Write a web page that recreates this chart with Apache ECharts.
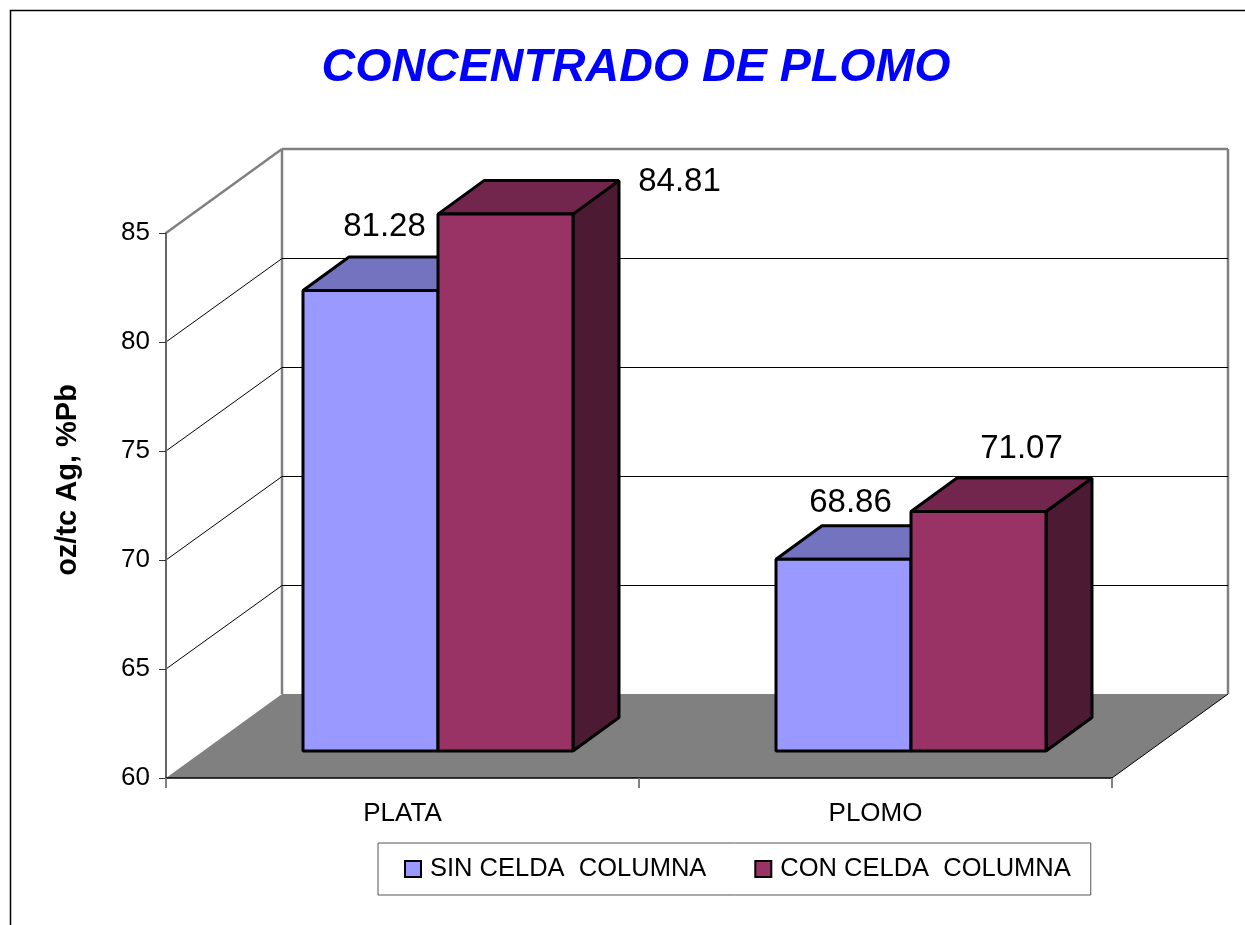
<!DOCTYPE html>
<html>
<head>
<meta charset="utf-8">
<title>CONCENTRADO DE PLOMO</title>
<script src="https://cdn.jsdelivr.net/npm/echarts@6/dist/echarts.min.js"></script>
<style>
    html, body { margin: 0; padding: 0; background: #fff; }
    #chart { width: 1245px; height: 925px; }
</style>
</head>
<body>
<div id="chart"></div>
<script>
const categories = ['PLATA', 'PLOMO']
const seriesNames = ['SIN CELDA  COLUMNA', 'CON CELDA  COLUMNA']
const sinCelda = [81.28, 68.86]
const conCelda = [84.81, 71.07]
const yTicks = [60, 65, 70, 75, 80, 85]

const FONT = '"Liberation Sans", Arial, sans-serif'
const GRAY = '#808080'

// wall depth, front plane to back wall
const WALL_DX = 116
const WALL_DY = 84
// bar depth and width
const BAR_DX = 46
const BAR_DY = 33.5
const BAR_W = 135

// the data labels were moved by hand in the original, offset from bar top centre
const labelOffset = [
    [[14, -64], [7, -56]],
    [[174, -32], [43, -63]]
]

const poly = (points, fill, stroke, width) => ({
    type: 'polygon',
    shape: { points },
    style: { fill, stroke, lineWidth: width || 0, lineJoin: 'bevel' }
})
const seg = (x1, y1, x2, y2, stroke, width) => ({
    type: 'line',
    shape: { x1, y1, x2, y2 },
    style: { stroke, lineWidth: width }
})

// floor and the gray outline of the walls
const renderWalls = (params, api) => {
    const half = api.size([1, 0])[0] / 2
    const lo = api.coord([0, yTicks[0]])
    const hi = api.coord([0, yTicks[yTicks.length - 1]])
    const x0 = lo[0] - half
    const x1 = api.coord([categories.length - 1, yTicks[0]])[0] + half
    const y0 = lo[1]
    const y1 = hi[1]
    return {
        type: 'group',
        children: [
            poly([[x0, y0], [x0 + WALL_DX, y0 - WALL_DY], [x1 + WALL_DX, y0 - WALL_DY], [x1, y0]], GRAY),
            seg(x1, y0, x1 + WALL_DX, y0 - WALL_DY, '#000', 1),
            seg(x0, y1, x0 + WALL_DX, y1 - WALL_DY, GRAY, 2.5),
            seg(x0 + WALL_DX, y1 - WALL_DY, x1 + WALL_DX, y1 - WALL_DY, GRAY, 2.5),
            seg(x0 + WALL_DX, y1 - WALL_DY, x0 + WALL_DX, y0 - WALL_DY, GRAY, 2.5),
            seg(x1 + WALL_DX, y1 - WALL_DY, x1 + WALL_DX, y0 - WALL_DY, GRAY, 2.5)
        ]
    }
}

// gridlines running over the side wall and the back wall
const renderGridLine = (params, api) => {
    const half = api.size([1, 0])[0] / 2
    const p = api.coord([0, api.value(1)])
    const x0 = p[0] - half
    const x1 = api.coord([categories.length - 1, api.value(1)])[0] + half
    const y = Math.round(p[1] - WALL_DY) + 0.5
    return {
        type: 'group',
        children: [
            seg(x0, p[1], x0 + WALL_DX, y, '#000', 1),
            seg(x0 + WALL_DX, y, x1 + WALL_DX, y, '#000', 1)
        ]
    }
}

const makeBarRender = (side, colors) => (params, api) => {
    const i = api.value(0)
    const v = api.value(1)
    const c = api.coord([i, v])
    const base = api.coord([i, yTicks[0]])[1]
    const left = side === 0 ? c[0] - BAR_W : c[0]
    const right = left + BAR_W
    const top = c[1]
    const off = labelOffset[side][i]
    return {
        type: 'group',
        children: [
            poly([[right, top], [right + BAR_DX, top - BAR_DY], [right + BAR_DX, base - BAR_DY], [right, base]], colors[2], '#000', 3),
            poly([[left, top], [left + BAR_DX, top - BAR_DY], [right + BAR_DX, top - BAR_DY], [right, top]], colors[1], '#000', 3),
            poly([[left, top], [right, top], [right, base], [left, base]], colors[0], '#000', 3),
            {
                type: 'text',
                x: (left + right) / 2 + off[0],
                y: top + off[1],
                style: {
                    text: v.toFixed(2),
                    fill: '#000',
                    font: '33px ' + FONT,
                    align: 'center',
                    verticalAlign: 'middle'
                }
            }
        ]
    }
}

const chart = echarts.init(document.getElementById('chart'), null, { renderer: 'canvas' })

chart.setOption({
    animation: false,
    backgroundColor: '#fff',
    title: {
        text: 'CONCENTRADO DE PLOMO',
        left: 631,
        top: 40,
        textAlign: 'center',
        textStyle: { color: '#0000ff', fontFamily: FONT, fontSize: 46.6, fontWeight: 'bold', fontStyle: 'italic' }
    },
    legend: {
        data: [
            { name: seriesNames[0], icon: 'rect', itemStyle: { color: '#9999ff', borderColor: '#000', borderWidth: 2 } },
            { name: seriesNames[1], icon: 'rect', itemStyle: { color: '#993366', borderColor: '#000', borderWidth: 2 } }
        ],
        left: 378,
        top: 843,
        padding: [13, 20, 13, 26],
        itemWidth: 16,
        itemHeight: 16,
        itemGap: 48,
        borderColor: '#555',
        borderWidth: 1,
        borderRadius: 0,
        selectedMode: false,
        textStyle: { color: '#000', fontFamily: FONT, fontSize: 25.5, padding: [0, 0, 0, 4] }
    },
    grid: [
        // front plane, carries the axes
        { left: 166, top: 233, width: 946, height: 545 },
        // plane the bars stand on, further back on the floor
        { left: 201.5, top: 210, width: 946, height: 541 }
    ],
    xAxis: [
        {
            type: 'category',
            gridIndex: 0,
            data: categories,
            z: 5,
            axisLine: { show: true, lineStyle: { color: '#000', width: 1.5 } },
            axisTick: { show: true, alignWithLabel: false, length: 10, lineStyle: { color: GRAY, width: 2 } },
            axisLabel: { color: '#000', fontFamily: FONT, fontSize: 26, margin: 23 }
        },
        { type: 'category', gridIndex: 1, data: categories, show: false }
    ],
    yAxis: [
        {
            type: 'value',
            gridIndex: 0,
            min: 60,
            max: 85,
            interval: 5,
            z: 5,
            splitLine: { show: false },
            axisLine: { show: true, lineStyle: { color: '#666', width: 2 } },
            axisTick: { show: true, length: 7, lineStyle: { color: '#333', width: 1 } },
            axisLabel: { color: '#000', fontFamily: FONT, fontSize: 26, margin: 16 }
        },
        { type: 'value', gridIndex: 1, min: 60, max: 85, interval: 5, show: false }
    ],
    graphic: [
        {
            type: 'polyline',
            shape: { points: [[10.5, 925], [10.5, 10.5], [1245, 10.5]] },
            style: { stroke: '#000', lineWidth: 1.5, fill: 'none' }
        },
        {
            type: 'text',
            x: 68,
            y: 480,
            rotation: Math.PI / 2,
            style: {
                text: 'oz/tc Ag, %Pb',
                fill: '#000',
                font: 'bold 29px ' + FONT,
                align: 'center',
                verticalAlign: 'middle'
            }
        }
    ],
    series: [
        {
            type: 'custom',
            xAxisIndex: 0,
            yAxisIndex: 0,
            silent: true,
            z: 1,
            data: [[0, yTicks[0]]],
            renderItem: renderWalls
        },
        {
            type: 'custom',
            xAxisIndex: 0,
            yAxisIndex: 0,
            silent: true,
            z: 1,
            data: yTicks.slice(1, -1).map(v => [0, v]),
            renderItem: renderGridLine
        },
        {
            name: seriesNames[0],
            type: 'custom',
            xAxisIndex: 1,
            yAxisIndex: 1,
            z: 2,
            itemStyle: { color: '#9999ff' },
            data: sinCelda.map((v, i) => [i, v]),
            renderItem: makeBarRender(0, ['#9999ff', '#7373bf', '#4d4d80'])
        },
        {
            name: seriesNames[1],
            type: 'custom',
            xAxisIndex: 1,
            yAxisIndex: 1,
            z: 3,
            itemStyle: { color: '#993366' },
            data: conCelda.map((v, i) => [i, v]),
            renderItem: makeBarRender(1, ['#993366', '#73264d', '#4d1a33'])
        }
    ]
})

window.addEventListener('resize', () => chart.resize())
</script>
</body>
</html>
